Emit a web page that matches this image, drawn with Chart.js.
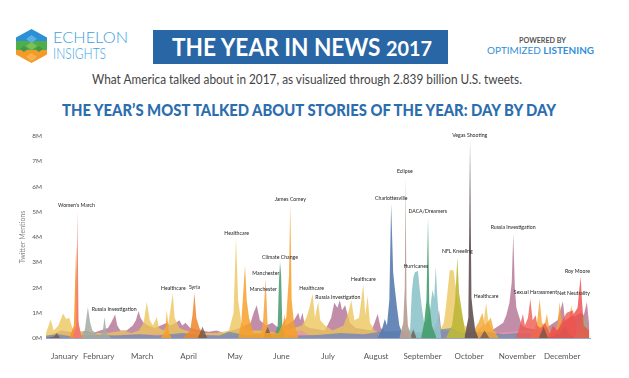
<!DOCTYPE html>
<html>
<head>
<meta charset="utf-8">
<script src="https://cdn.jsdelivr.net/npm/chart.js@4.4.0/dist/chart.umd.min.js"></script>
<style>
  body { margin: 0; width: 629px; height: 378px; background: #fff; position: relative; overflow: hidden; font-family: Lato, "Open Sans", sans-serif; }
  .abs { position: absolute; white-space: nowrap; transform-origin: left top; }
  #logo { position: absolute; left: 16px; top: 29px; }
  #echelon { left: 53px; top: 30px; font-size: 15px; font-weight: 300; color: #3d9fe0; line-height: 15px; }
  #insights { left: 53px; top: 46px; font-size: 15px; font-weight: 300; color: #3d9fe0; line-height: 15px; }
  #banner { position: absolute; left: 153px; top: 30px; width: 295px; height: 34px; background: #2866a6; }
  #bannerText { left: 172px; top: 34px; font-size: 24px; font-weight: 700; color: #fff; line-height: 26px; }
  #bannerText small { font-size: 21px; }
  #powered { left: 519px; top: 36px; font-size: 7px; font-weight: 700; color: #555; line-height: 8px; }
  #optimized { left: 487px; top: 45px; font-size: 10px; color: #2f8fd8; line-height: 11px; }
  #subtitle { left: 92px; top: 71px; font-size: 14px; color: #444; line-height: 16px; }
  #title { left: 62px; top: 100px; font-size: 17px; font-weight: 900; color: #2c6db0; line-height: 19px; }
  #chartBox { position: absolute; left: 0; top: 120px; width: 629px; height: 258px; }
</style>
</head>
<body>
<svg id="logo" width="31" height="34" viewBox="0 0 31 34">
  <defs><clipPath id="hex"><polygon points="15.5,0 31,8.5 31,25.5 15.5,34 0,25.5 0,8.5"/></clipPath></defs>
  <g clip-path="url(#hex)">
    <rect x="0" y="0" width="31" height="14" fill="#2d8fd5"/>
    <rect x="0" y="12" width="31" height="10" fill="#4fae4a"/>
    <rect x="0" y="21" width="31" height="13" fill="#f39a2b"/>
    <polygon points="15.5,6 21,10 15.5,14 10,10" fill="#5ab0e8"/>
    <polygon points="15.5,13 21,17 15.5,21 10,17" fill="#7cc05a"/>
    <polygon points="8,17 12,20 8,23 4,20" fill="#3f9a44"/>
    <polygon points="23,17 27,20 23,23 19,20" fill="#3f9a44"/>
    <polygon points="15.5,24 21,28 15.5,32 10,28" fill="#f7b24a"/>
  </g>
</svg>
<div class="abs" id="echelon" data-w="75">ECHELON</div>
<div class="abs" id="insights" data-w="53">INSIGHTS</div>
<div id="banner"></div>
<div class="abs" id="bannerText" data-w="260">THE YEAR IN NEWS <small>2017</small></div>
<div class="abs" id="powered" data-w="47">POWERED BY</div>
<div class="abs" id="optimized" data-w="107">OPTIMIZED <b>LISTENING</b></div>
<div class="abs" id="subtitle" data-w="430">What America talked about in 2017, as visualized through 2.839 billion U.S. tweets.</div>
<div class="abs" id="title" data-w="494">THE YEAR’S MOST TALKED ABOUT STORIES OF THE YEAR: DAY BY DAY</div>
<div id="chartBox"><canvas id="newsChart" width="629" height="258"></canvas></div>
<script>
// x values are day of year (0 = Jan 1), y values are millions of tweets
const monthNames = ["January", "February", "March", "April", "May", "June", "July", "August", "September", "October", "November", "December"];
const monthTickDays = [12, 34, 62, 92, 122, 152, 182, 213, 243, 273, 304, 333];
const yTicks = [0, 1, 2, 3, 4, 5, 6, 7, 8];

const russiaDays = [0, 10, 20, 26, 30, 35, 40, 42, 44.6, 46, 48, 52, 56, 58, 59.7, 61, 63, 66, 70, 74, 78, 80, 84, 86, 88, 90, 93, 100, 105, 110, 115, 120, 125, 132, 134, 136, 138, 142, 146, 150, 155, 160, 162.8, 164, 165.5, 167, 170, 180, 184, 186, 188, 189.6, 191, 193, 196, 200, 210, 212, 214, 216, 220, 240, 250, 252, 253.6, 255, 270, 285, 290, 295, 297, 299, 300.5, 301.5, 302.5, 303.5, 305, 307, 310, 320, 325, 330, 333.5, 335, 340, 345, 347, 349, 350.5];
const russiaVals = [0.05, 0.3, 0.2, 0.3, 0.2, 0.3, 0.4, 0.6, 0.93, 0.5, 0.3, 0.3, 0.5, 0.7, 1.07, 0.8, 0.6, 0.5, 0.4, 0.5, 0.6, 0.5, 0.6, 0.7, 0.5, 0.6, 0.4, 0.3, 0.25, 0.3, 0.2, 0.3, 0.4, 0.6, 1.0, 1.3, 0.7, 0.5, 0.6, 0.4, 0.5, 0.7, 1.0, 0.7, 1.0, 0.5, 0.4, 0.3, 0.8, 1.4, 1.2, 1.5, 1.1, 1.3, 0.6, 0.4, 0.3, 0.6, 0.95, 0.4, 0.2, 0.1, 0.3, 0.6, 1.1, 0.3, 0.2, 0.2, 0.4, 0.6, 0.9, 1.4, 2.2, 4.13, 2.0, 1.2, 0.9, 0.5, 0.4, 0.3, 0.5, 0.7, 1.46, 0.6, 0.8, 1.0, 0.9, 1.43, 0.5];

const healthcareDays = [0, 3, 5, 8, 11, 13, 15, 17, 19, 22, 25, 40, 50, 55, 60, 63, 65, 67, 69, 71.5, 73, 76, 79, 81.8, 83, 86, 90, 100, 110, 118, 121, 122.6, 124, 126, 130, 140, 150, 165, 168, 170, 172, 173.5, 175.6, 177, 180, 185, 192, 195, 197, 199, 202, 204.7, 206, 207.5, 209, 212, 220, 250, 255, 256.7, 258, 260.5, 263, 264, 266, 270, 278, 282, 284, 285.5, 288, 295, 350];
const healthcareVals = [0.2, 0.73, 0.3, 0.5, 0.97, 0.75, 0.8, 0.4, 0.3, 0.3, 0.2, 0.2, 0.3, 0.2, 0.3, 0.6, 1.43, 0.7, 0.5, 0.83, 0.4, 0.3, 0.6, 1.76, 0.8, 0.4, 0.3, 0.2, 0.2, 0.3, 1.0, 3.94, 1.5, 0.6, 0.3, 0.3, 0.2, 0.5, 0.8, 1.2, 1.76, 0.8, 1.43, 0.7, 0.5, 0.3, 0.5, 1.0, 1.5, 0.7, 0.8, 2.13, 0.9, 1.66, 0.6, 0.3, 0.1, 0.1, 0.4, 0.6, 1.2, 2.68, 2.68, 2.2, 1.4, 0.5, 0.3, 0.5, 1.4, 0.6, 0.3, 0.1, 0.1];

const inaugurationDays = [15, 18, 19.5, 20.5, 22, 24];
const inaugurationVals = [0, 0.5, 3.7, 0.8, 0.2, 0];
const womensMarchDays = [17, 19.5, 20.3, 21, 23];
const womensMarchVals = [0, 0.5, 5.03, 0.6, 0];
const travelBanDays = [22, 25, 27, 28.5, 30, 34, 36.5, 37.8, 39, 42];
const travelBanVals = [0, 0.3, 1.23, 0.6, 0.3, 0.1, 0.2, 0.83, 0.2, 0];
const syriaDays = [88, 93, 94.5, 95.8, 97, 99, 103];
const syriaVals = [0, 0.3, 0.9, 1.78, 0.8, 0.4, 0];
const comeyDays = [74, 77, 78, 79, 81, 124, 126, 128.4, 129.5, 131, 134, 150, 153, 155, 156.8, 157.6, 158.5, 160, 163];
const comeyVals = [0, 0.3, 1.1, 0.3, 0, 0, 0.6, 2.88, 1.5, 0.8, 0.2, 0.2, 0.6, 0.8, 2.5, 5.32, 1.5, 0.6, 0];
const attackDays = [138, 140, 141.7, 143, 145, 150, 152.5, 153.8, 155, 156];
const attackVals = [0, 0.6, 2.35, 0.5, 0, 0, 0.3, 0.95, 0.3, 0];
const climateDays = [147, 149.5, 150.3, 151, 151.7, 152.5, 155];
const climateVals = [0, 0.5, 2.2, 3.0, 2.5, 0.4, 0];
const charlottesvilleDays = [214, 217, 218.6, 220, 221.5, 222.7, 224, 225, 226.5, 228, 231];
const charlottesvilleVals = [0, 0.4, 0.75, 0.5, 1.5, 5.32, 2.6, 2.0, 1.2, 0.5, 0];
const eclipseDays = [228, 230.5, 231.5, 232, 232.6, 233.5, 236];
const eclipseVals = [0, 0.6, 2.0, 6.4, 1.5, 0.5, 0];
const hurricaneDays = [233, 235, 236, 237, 238, 240, 241, 242.5, 244, 246, 248, 249.3, 250.5, 251.5, 252.3, 253, 255];
const hurricaneVals = [0, 0.4, 1.8, 2.4, 2.6, 2.65, 2.0, 1.2, 0.6, 0.7, 1.2, 1.9, 1.6, 2.84, 1.8, 1.2, 0];
const dacaDays = [242, 244, 245.5, 246.5, 247.3, 249, 252];
const dacaVals = [0, 0.6, 1.5, 4.77, 1.4, 0.5, 0];
const nflDays = [258, 262, 264, 265.4, 266.5, 268, 270, 272];
const nflVals = [0, 0.5, 1.5, 3.2, 1.8, 1.2, 0.4, 0];
const vegasDays = [270, 272.5, 273.6, 274.5, 275.5, 277, 279];
const vegasVals = [0, 0.8, 7.83, 1.6, 1.0, 0.3, 0];
const taxDays = [270, 276, 279, 281.6, 283, 287, 289, 292, 312, 315, 317, 318.5, 320, 321.5, 323.2, 325, 328, 330, 331.4, 333, 336, 337.5, 338.9, 340.5, 343];
const taxVals = [0, 0.3, 0.6, 1.0, 0.5, 0.8, 0.3, 0, 0, 0.3, 0.7, 1.55, 0.6, 0.5, 0.95, 0.3, 0.2, 0.5, 1.43, 0.6, 0.4, 0.7, 1.3, 0.5, 0.2];
const harassmentDays = [303, 305, 307.7, 309, 311, 312.5, 314, 316, 317, 319, 322, 325, 330, 334, 336, 340, 342];
const harassmentVals = [0, 0.3, 0.95, 0.5, 0.8, 1.55, 0.7, 0.9, 0.5, 0.4, 0.6, 0.2, 0.3, 0.8, 1.0, 1.1, 0.5];
const royMooreDays = [324, 327, 330, 335, 340, 343, 344.2, 345, 345.8, 347, 350.5];
const royMooreVals = [0, 0.5, 0.3, 0.7, 0.9, 1.2, 2.0, 2.42, 1.5, 0.5, 0.3];
const netNeutralityDays = [340, 343, 345, 346.5, 348, 350.5];
const netNeutralityVals = [0, 0.2, 0.6, 1.0, 0.5, 0.2];
const otherBlueDays = [0, 8, 15, 30, 45, 60, 72, 88, 100, 112, 118, 130, 145, 160, 175, 190, 205, 215, 230, 245, 255, 262, 268, 285, 295, 305, 315, 325, 335, 345, 350.5];
const otherBlueVals = [0.1, 0.15, 0.08, 0.12, 0.1, 0.15, 0.1, 0.2, 0.12, 0.1, 0.25, 0.1, 0.15, 0.1, 0.12, 0.2, 0.15, 0.25, 0.3, 0.2, 0.35, 0.4, 0.2, 0.25, 0.15, 0.2, 0.15, 0.25, 0.2, 0.15, 0.1];
const otherBrownDays = [0, 5, 7, 9, 98, 101, 104, 140, 143, 146, 235, 237, 239, 280, 283, 286, 318, 321, 324, 332, 335, 338, 350.5];
const otherBrownVals = [0, 0.05, 0.2, 0, 0, 0.45, 0, 0, 0.45, 0, 0, 0.35, 0, 0, 0.3, 0, 0, 0.45, 0, 0.2, 0.5, 0.1, 0];
const otherPinkDays = [0, 40, 60, 110, 150, 160, 165, 170, 200, 240, 255, 270, 290, 300, 310, 330, 350.5];
const otherPinkVals = [0.05, 0.1, 0.15, 0.1, 0.1, 0.25, 0.3, 0.1, 0.15, 0.1, 0.3, 0.15, 0.2, 0.25, 0.3, 0.2, 0.1];

const storyLabels = ["Women's March", "Russia Investigation", "Healthcare", "Syria", "Healthcare", "Manchester", "Manchester", "Climate Change", "James Comey", "Healthcare", "Russia Investigation", "Healthcare", "Charlottesville", "Eclipse", "Hurricanes", "DACA/Dreamers", "NFL Kneeling", "Vegas Shooting", "Healthcare", "Russia Investigation", "Sexual Harassment", "Net Neutrality", "Roy Moore"];
const labelDays = [19.7, 44, 82.2, 95.8, 123, 141.8, 140.2, 151, 157.6, 171.4, 188.3, 204.8, 222.8, 231.5, 238.6, 246.3, 265.4, 273.4, 284, 301.4, 315.8, 340.4, 342.9];
const labelVals = [5.25, 1.14, 1.97, 2.0, 4.13, 2.57, 1.93, 3.21, 5.5, 1.95, 1.6, 2.32, 5.53, 6.6, 2.84, 5.02, 3.45, 8.04, 1.66, 4.38, 1.82, 1.77, 2.64];

function points(days, vals) {
  return days.map((d, i) => ({ x: d, y: vals[i] }));
}

function area(days, vals, color) {
  return {
    data: points(days, vals),
    backgroundColor: color,
    borderWidth: 0,
    pointRadius: 0,
    fill: "origin",
    tension: 0
  };
}

// first dataset is drawn on top
const datasets = [
  area(vegasDays, vegasVals, "rgba(104,88,90,0.95)"),
  area(eclipseDays, eclipseVals, "rgba(185,160,148,0.95)"),
  area(womensMarchDays, womensMarchVals, "rgba(242,118,118,0.9)"),
  area(charlottesvilleDays, charlottesvilleVals, "rgba(88,124,176,0.9)"),
  area(dacaDays, dacaVals, "rgba(66,158,106,0.9)"),
  area(nflDays, nflVals, "rgba(190,184,58,0.9)"),
  area(comeyDays, comeyVals, "rgba(247,160,44,0.85)"),
  area(climateDays, climateVals, "rgba(76,158,120,0.9)"),
  area(royMooreDays, royMooreVals, "rgba(236,84,80,0.85)"),
  area(netNeutralityDays, netNeutralityVals, "rgba(138,192,92,0.9)"),
  area(otherBrownDays, otherBrownVals, "rgba(110,84,70,0.75)"),
  area(attackDays, attackVals, "rgba(244,162,56,0.85)"),
  area(syriaDays, syriaVals, "rgba(238,134,44,0.85)"),
  area(inaugurationDays, inaugurationVals, "rgba(247,150,40,0.9)"),
  area(hurricaneDays, hurricaneVals, "rgba(142,196,202,0.9)"),
  area(travelBanDays, travelBanVals, "rgba(165,172,160,0.85)"),
  area(harassmentDays, harassmentVals, "rgba(238,90,82,0.8)"),
  area(taxDays, taxVals, "rgba(246,164,52,0.8)"),
  area(otherBlueDays, otherBlueVals, "rgba(100,136,182,0.7)"),
  area(otherPinkDays, otherPinkVals, "rgba(230,150,168,0.8)"),
  area(healthcareDays, healthcareVals, "rgba(236,196,90,0.78)"),
  area(russiaDays, russiaVals, "rgba(178,112,148,0.8)")
];

const storyLabelPlugin = {
  id: "storyLabels",
  afterDatasetsDraw(chart) {
    const { ctx, scales } = chart;
    ctx.save();
    ctx.font = "5.2px Lato";
    ctx.fillStyle = "#222";
    ctx.textAlign = "center";
    ctx.textBaseline = "middle";
    storyLabels.forEach((text, i) => {
      ctx.fillText(text, scales.x.getPixelForValue(labelDays[i]), scales.y.getPixelForValue(labelVals[i]));
    });
    ctx.restore();
  }
};

const newsChart = new Chart(document.getElementById("newsChart").getContext("2d"), {
  type: "line",
  data: { datasets },
  plugins: [storyLabelPlugin],
  options: {
    responsive: false,
    animation: false,
    devicePixelRatio: 1,
    layout: { padding: { top: 16, right: 39, left: 0, bottom: 0 } },
    plugins: { legend: { display: false }, tooltip: { enabled: false } },
    scales: {
      x: {
        type: "linear",
        min: 0,
        max: 351,
        grid: { display: false, drawTicks: false },
        border: { display: true, color: "rgba(110,130,165,0.7)", width: 1 },
        afterBuildTicks: scale => { scale.ticks = monthTickDays.map(v => ({ value: v })); },
        afterFit: scale => { scale.height = 40; },
        ticks: {
          autoSkip: false,
          maxRotation: 0,
          padding: 14,
          color: "#555",
          font: { family: "Lato", size: 8 },
          callback: (value, index) => monthNames[index]
        }
      },
      y: {
        min: 0,
        max: 8,
        grid: { display: false, drawTicks: false },
        border: { display: false },
        afterBuildTicks: scale => { scale.ticks = yTicks.map(v => ({ value: v })); },
        afterFit: scale => { scale.width = 46; },
        ticks: {
          padding: 4,
          color: "#555",
          font: { family: "Lato", size: 6.5 },
          callback: value => value + "M"
        },
        title: {
          display: true,
          text: "Twitter Mentions",
          color: "#888",
          font: { family: "Lato", size: 7 },
          padding: { top: 19, bottom: 0 }
        }
      }
    }
  }
});

function fitWidths() {
  document.querySelectorAll("[data-w]").forEach(el => {
    el.style.transform = "none";
    const w = el.getBoundingClientRect().width;
    el.style.transform = "scaleX(" + (Number(el.dataset.w) / w) + ")";
  });
}
fitWidths();
document.fonts.ready.then(() => { fitWidths(); newsChart.update(); });
</script>
</body>
</html>
